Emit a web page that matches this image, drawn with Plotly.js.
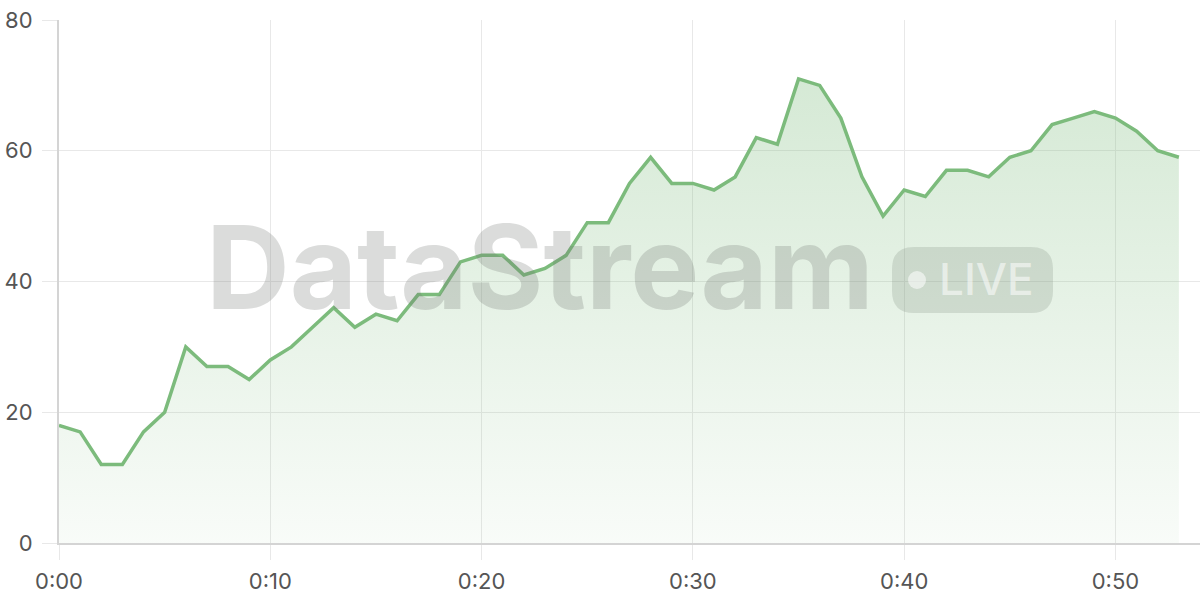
<!DOCTYPE html>
<html>
<head>
<meta charset="utf-8">
<script src="https://cdn.plot.ly/plotly-3.0.1.min.js"></script>
<style>
  html, body { margin: 0; padding: 0; background: #fff; }
  #grafico { width: 1200px; height: 600px; }
</style>
</head>
<body>
<div id="grafico"></div>
<script>
// minutos y valores
const minutos = [0, 1, 2, 3, 4, 5, 6, 7, 8, 9,
  10, 11, 12, 13, 14, 15, 16, 17, 18, 19,
  20, 21, 22, 23, 24, 25, 26, 27, 28, 29,
  30, 31, 32, 33, 34, 35, 36, 37, 38, 39,
  40, 41, 42, 43, 44, 45, 46, 47, 48, 49,
  50, 51, 52, 53];
const valores = [18, 17, 12, 12, 17, 20, 30, 27, 27, 25,
  28, 30, 33, 36, 33, 35, 34, 38, 38, 43,
  44, 44, 41, 42, 44, 49, 49, 55, 59, 55,
  55, 54, 56, 62, 61, 71, 70, 65, 56, 50,
  54, 53, 57, 57, 56, 59, 60, 64, 65, 66,
  65, 63, 60, 59];
const ticksX = [0, 10, 20, 30, 40, 50];
const etiquetasX = ["0:00", "0:10", "0:20", "0:30", "0:40", "0:50"];
const ticksY = [0, 20, 40, 60, 80];

const marca = "DataStream";
const etiquetaVivo = "LIVE";

const verde = "rgb(124,187,124)";
const gris = "#e8e8e8";

// pasar pixeles de la imagen a coordenadas "paper"
const area = { l: 59, r: 1200, t: 20, b: 543 };
function px(x) { return (x - area.l) / (area.r - area.l); }
function py(y) { return (area.b - y) / (area.b - area.t); }

// rectangulo redondeado para la etiqueta LIVE
function rectRedondeado(x0, y0, x1, y1, r) {
    let a = px(x0), b = px(x1), c = py(y1), d = py(y0);
    let rx = r / (area.r - area.l), ry = r / (area.b - area.t);
    return `M${a + rx},${c} L${b - rx},${c} Q${b},${c} ${b},${c + ry} ` +
           `L${b},${d - ry} Q${b},${d} ${b - rx},${d} L${a + rx},${d} ` +
           `Q${a},${d} ${a},${d - ry} L${a},${c + ry} Q${a},${c} ${a + rx},${c} Z`;
}

var traza = {
    x: minutos,
    y: valores,
    type: 'scatter',
    mode: 'lines',
    line: { color: verde, width: 3.5 },
    fill: 'tozeroy',
    fillgradient: {
        type: 'vertical',
        colorscale: [[0, 'rgba(124,187,124,0.05)'], [1, 'rgba(124,187,124,0.32)']]
    },
    hoverinfo: 'skip'
};

var layout = {
    width: 1200,
    height: 600,
    margin: { l: 59, r: 0, t: 20, b: 57 },
    paper_bgcolor: '#fff',
    plot_bgcolor: '#fff',
    showlegend: false,
    font: { family: 'Inter, "Open Sans", sans-serif', size: 22, color: '#555' },
    xaxis: {
        range: [0, 54],
        tickvals: ticksX,
        ticktext: etiquetasX,
        showgrid: true,
        gridcolor: gris,
        gridwidth: 1,
        ticks: 'outside',
        ticklen: 15,
        tickcolor: gris,
        showline: true,
        linecolor: '#d4d4d4',
        linewidth: 2,
        zeroline: false,
        ticklabelstandoff: 3,
        fixedrange: true
    },
    yaxis: {
        range: [0, 80],
        tickvals: ticksY,
        showgrid: true,
        gridcolor: gris,
        gridwidth: 1,
        ticks: 'outside',
        ticklen: 15,
        tickcolor: gris,
        showline: true,
        linecolor: '#d4d4d4',
        linewidth: 2,
        zeroline: false,
        ticklabelstandoff: 5,
        fixedrange: true
    },
    shapes: [
        {
            type: 'path', xref: 'paper', yref: 'paper', layer: 'above',
            path: rectRedondeado(892, 247, 1053, 313, 22),
            fillcolor: 'rgba(120,130,120,0.22)',
            line: { width: 0 }
        },
        {
            type: 'circle', xref: 'paper', yref: 'paper', layer: 'above',
            x0: px(908), x1: px(926), y0: py(289), y1: py(271),
            fillcolor: 'rgba(255,255,255,0.55)',
            line: { width: 0 }
        }
    ],
    annotations: [
        {
            text: marca,
            xref: 'paper', yref: 'paper',
            x: px(540), y: py(267),
            xanchor: 'center', yanchor: 'middle',
            showarrow: false,
            font: { family: 'Inter, sans-serif', size: 116, weight: 700, color: 'rgba(110,115,110,0.25)' }
        },
        {
            text: etiquetaVivo,
            xref: 'paper', yref: 'paper',
            x: px(986), y: py(279),
            xanchor: 'center', yanchor: 'middle',
            showarrow: false,
            font: { family: 'Inter, sans-serif', size: 44, weight: 500, color: 'rgba(255,255,255,0.55)' }
        }
    ]
};

Plotly.newPlot('grafico', [traza], layout, { displayModeBar: false, staticPlot: true });
</script>
</body>
</html>
